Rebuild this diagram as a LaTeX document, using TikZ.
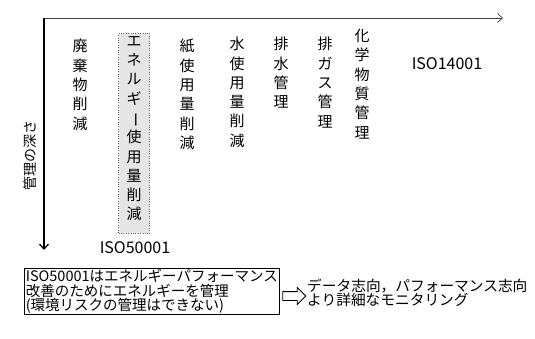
\documentclass[tikz,border=0pt]{standalone}
\usepackage{fontspec}
\usepackage{graphicx}
\usetikzlibrary{shapes.arrows,arrows.meta}
\newfontfamily\jp{Noto Sans CJK JP}
\newcommand{\vbar}{\rotatebox[origin=c]{-90}{ー}}
\begin{document}
\begin{tikzpicture}[x=1pt,y=-1pt,
  vtext/.style={anchor=north,align=center,inner sep=0pt,font=\jp\fontsize{15}{19.3}\selectfont},
  axisx/.style={draw=black!75,line width=0.7pt,-{Straight Barb[length=5pt,width=9pt]}},
  axisy/.style={draw=black,line width=1.3pt,-{Straight Barb[length=5pt,width=9pt]}},
  box/.style={draw,line width=0.6pt,anchor=north west,inner xsep=1.5pt,inner ysep=1pt,align=left,text width=252pt,minimum height=46pt,font=\jp\fontsize{14.5}{14.3}\selectfont},
  blockarrow/.style={single arrow,draw,line width=0.8pt,minimum height=23pt,inner ysep=4pt,inner xsep=0pt,single arrow head extend=4pt},
  lbl/.style={inner sep=0pt,font=\jp\fontsize{14.7}{14}\selectfont},
  iso/.style={inner sep=0pt,font=\jp\fontsize{16}{16}\selectfont}]
\useasboundingbox (0,0) rectangle (535,338);
\coordinate (O) at (44,18);
\coordinate (X) at (503,18);
\coordinate (Y) at (44,250);
\draw[axisx] (O) -- (X);
\draw[axisy] (O) -- (Y);
\node[lbl,rotate=90,font=\jp\fontsize{14}{14}\selectfont] (depth) at (30,155) {管理の深さ};
\node[draw=black!60,dotted,fill=black!10,minimum width=31pt,minimum height=200pt,anchor=north,inner sep=0pt] (ebox) at (134,33) {};
\node[vtext] (c1) at (80,39) {廃\\棄\\物\\削\\減};
\node[vtext] (c2) at (134,36) {エ\\ネ\\ル\\ギ\\\vbar\\使\\用\\量\\削\\減};
\node[vtext] (c3) at (187,39) {紙\\使\\用\\量\\削\\減};
\node[vtext] (c4) at (237,37) {水\\使\\用\\量\\削\\減};
\node[vtext] (c5) at (281,37) {排\\水\\管\\理};
\node[vtext] (c6) at (325,37) {排\\ガ\\ス\\管\\理};
\node[vtext] (c7) at (362,29) {化\\学\\物\\質\\管\\理};
\node[iso] (iso14) at (447,64) {ISO14001};
\node[iso] (iso50) at (135,248) {ISO50001};
\node[box] (note) at (24,268) {ISO50001はエネルギーパフォーマンス\\改善のためにエネルギーを管理\\(環境リスクの管理はできない)};
\node[blockarrow] (arr) at (292,296) {};
\node[lbl,anchor=west,align=left] (res) at (307,293) {データ志向，パフォーマンス志向\\より詳細なモニタリング};
\end{tikzpicture}
\end{document}
